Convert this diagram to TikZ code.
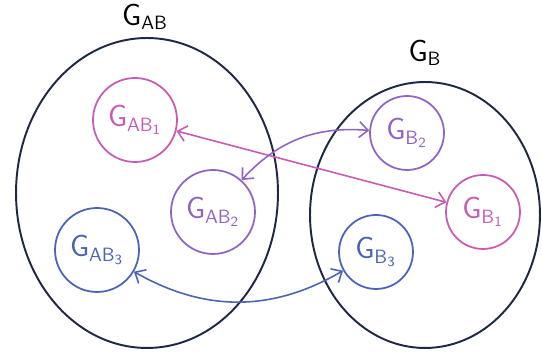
\documentclass[tikz,border=0pt]{standalone}
\usepackage{amsmath,amssymb}
\usepackage{xcolor}
\usepackage{tikz}
\usetikzlibrary{shapes,arrows,arrows.meta,positioning,calc}

\definecolor{navy}{HTML}{1E2846}
\definecolor{pinkc}{HTML}{C65BB4}
\definecolor{purplec}{HTML}{8F64C4}
\definecolor{bluec}{HTML}{4A63B2}

\newcommand{\gname}[1]{$\mathsf{G_{#1}}$}

\begin{document}
\begin{tikzpicture}[
    x=0.02cm, y=0.02cm,
    font=\fontsize{16}{19}\selectfont\sffamily,
    graph/.style={ellipse, draw=navy, line width=1.1pt, inner sep=0pt},
    sub/.style={circle, line width=1pt, inner sep=0pt, text centered},
    arrow/.style={{Straight Barb[length=5pt,width=9pt]}-{Straight Barb[length=5pt,width=9pt]}, line width=0.9pt},
    title/.style={font=\fontsize{16}{19}\selectfont}
]
    \useasboundingbox (0,0) rectangle (542,354);

    % Big graphs
    \node[graph, minimum width=5.24cm, minimum height=6.2cm] (gab) at (147,161) {};
    \node[graph, minimum width=4.6cm, minimum height=5.32cm] (gb) at (425,139) {};

    % Labels
    \node[title] (labab) at (145,337) {\gname{AB}};
    \node[title] (labb) at (425,301) {\gname{B}};

    % Subgraphs of G_AB
    \node[sub, draw=pinkc, text=pinkc, minimum size=1.68cm] (ab1) at (135,234) {\gname{AB_1}};
    \node[sub, draw=purplec, text=purplec, minimum size=1.68cm] (ab2) at (213,142) {\gname{AB_2}};
    \node[sub, draw=bluec, text=bluec, minimum size=1.68cm] (ab3) at (97,104) {\gname{AB_3}};

    % Subgraphs of G_B
    \node[sub, draw=purplec, text=purplec, minimum size=1.48cm] (b2) at (407,221) {\gname{B_2}};
    \node[sub, draw=pinkc, text=pinkc, minimum size=1.48cm] (b1) at (483,142) {\gname{B_1}};
    \node[sub, draw=bluec, text=bluec, minimum size=1.48cm] (b3) at (376,102) {\gname{B_3}};

    % Matchings
    \draw[arrow, pinkc] (ab1) -- (b1);
    \draw[arrow, purplec] (ab2) to[bend left=26] (b2);
    \draw[arrow, bluec] (ab3) to[bend right=30] (b3);
\end{tikzpicture}
\end{document}
